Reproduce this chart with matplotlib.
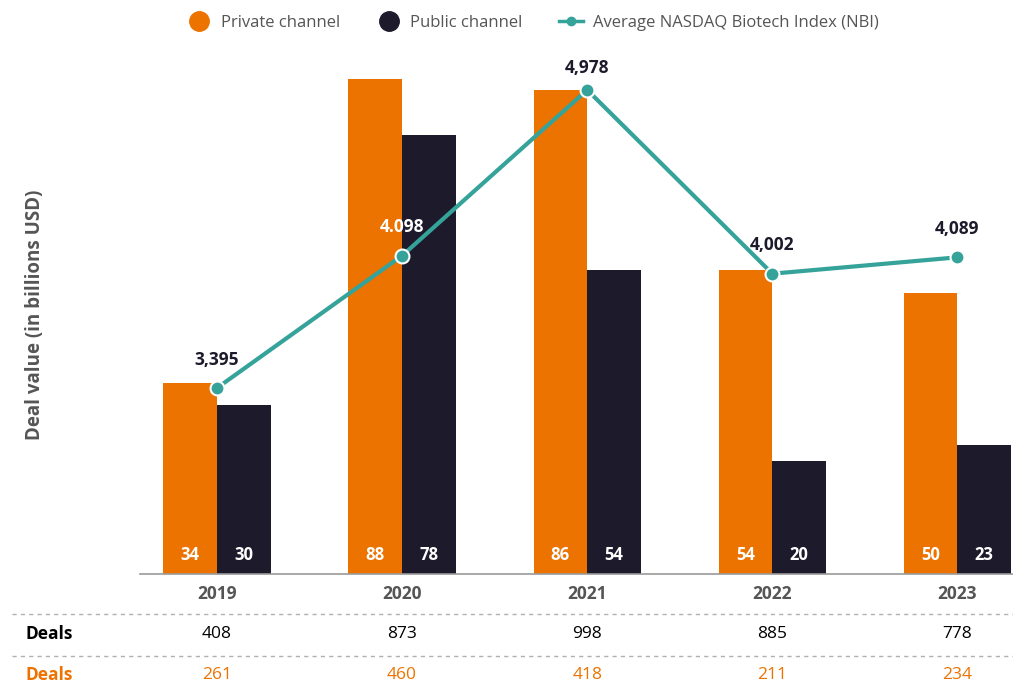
import matplotlib.pyplot as plt
import numpy as np
from matplotlib.lines import Line2D
from matplotlib.transforms import blended_transform_factory

plt.rcParams['font.family'] = ['Open Sans', 'DejaVu Sans']

# data
years = ["2019", "2020", "2021", "2022", "2023"]
private_value = [34, 88, 86, 54, 50]
public_value = [30, 78, 54, 20, 23]
nbi_avg = [3395, 4098, 4978, 4002, 4089]
nbi_labels = ["3,395", "4.098", "4,978", "4,002", "4,089"]
deals_total = [408, 873, 998, 885, 778]
deals_private = [261, 460, 418, 211, 234]

orange = "#EC7300"
navy = "#1C1A2B"
teal = "#35A39A"
grey = "#555555"

W, H = 1013, 685
fig = plt.figure(figsize=(W / 100, H / 100), dpi=100)
ax_left, ax_right, ax_top, ax_bottom = 140, 1013, 60, 574
ax = fig.add_axes([ax_left / W, (H - ax_bottom) / H,
                   (ax_right - ax_left) / W, (ax_bottom - ax_top) / H])

x = np.arange(len(years))
bw = 0.29
ax.bar(x - bw / 2, private_value, bw, color=orange, label="Private channel")
ax.bar(x + bw / 2, public_value, bw, color=navy, label="Public channel")
for i in range(len(years)):
    ax.text(x[i] - bw / 2, 3.4, str(private_value[i]), ha="center", va="center",
            color="white", fontsize=12, fontweight="bold")
    ax.text(x[i] + bw / 2, 3.4, str(public_value[i]), ha="center", va="center",
            color="white", fontsize=12, fontweight="bold")

ax.set_xlim(-0.416, 4.3)
ax.set_ylim(0, 91.3)
ax.set_yticks([])
for s in ["top", "right", "left"]:
    ax.spines[s].set_visible(False)
ax.spines["bottom"].set_color("#9a9a9a")
ax.spines["bottom"].set_linewidth(1.2)
ax.set_xticks(x)
ax.set_xticklabels(years, fontsize=12.5, fontweight="bold", color=grey)
ax.tick_params(axis="x", length=0, pad=8)
fig.text(35 / W, 1 - 315 / H, "Deal value (in billions USD)", rotation=90,
         ha="center", va="center", fontsize=13.5, fontweight="bold", color=grey)

# NBI line on secondary axis
ax2 = ax.twinx()
ax2.set_ylim(2407, 5137)
ax2.axis("off")
ax2.plot(x, nbi_avg, color=teal, linewidth=3, marker="o", markersize=10,
         markeredgecolor="white", markeredgewidth=1.5,
         label="Average NASDAQ Biotech Index (NBI)", zorder=5)
for i, lab in enumerate(nbi_labels):
    col = "white" if lab == "4.098" else navy
    off = 9 if nbi_avg[i] == max(nbi_avg) else 14
    ax2.annotate(lab, (x[i], nbi_avg[i]), xytext=(0, off), textcoords="offset points",
                 ha="center", va="bottom", fontsize=12.5, fontweight="bold", color=col)

# legend
legend_handles = [
    Line2D([], [], marker="o", color="none", markerfacecolor=orange, markeredgecolor=orange, markersize=14),
    Line2D([], [], marker="o", color="none", markerfacecolor=navy, markeredgecolor=navy, markersize=14),
    Line2D([], [], color=teal, linewidth=2.5, marker="o", markersize=6, markerfacecolor=teal, markeredgecolor=teal),
]
fig.legend(legend_handles, ["Private channel", "Public channel", "Average NASDAQ Biotech Index (NBI)"],
           loc="center", bbox_to_anchor=(533 / W, 1 - 23 / H), ncol=3, frameon=False,
           fontsize=12, labelcolor=grey, handlelength=1.4, columnspacing=2.2, handletextpad=0.6)

# table rows below chart
trans = blended_transform_factory(ax.transData, fig.transFigure)
for yy in [614, 656]:
    fig.add_artist(Line2D([12 / W, 1], [1 - yy / H] * 2, color="#b0b0b0",
                          linewidth=1, linestyle=(0, (3, 3))))
fig.text(25 / W, 1 - 634 / H, "Deals", fontsize=12.5, fontweight="bold", color="black", va="center")
fig.text(25 / W, 1 - 675 / H, "Deals", fontsize=12.5, fontweight="bold", color=orange, va="center")
for i in range(len(years)):
    ax.text(x[i], 1 - 634 / H, str(deals_total[i]), transform=trans, ha="center",
            va="center", fontsize=12.5, color="black")
    ax.text(x[i], 1 - 675 / H, str(deals_private[i]), transform=trans, ha="center",
            va="center", fontsize=12.5, color=orange)

fig.savefig("out.png", dpi=100)
